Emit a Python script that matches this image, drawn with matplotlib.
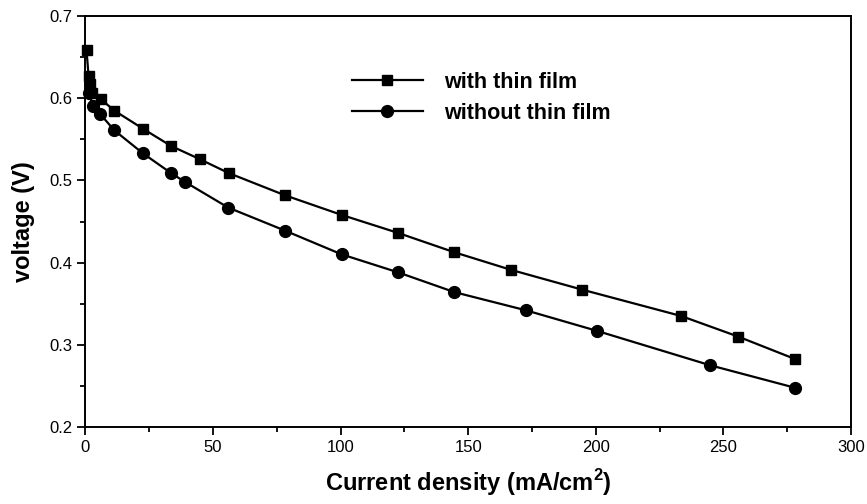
import matplotlib
matplotlib.use("Agg")
import matplotlib.pyplot as plt
from matplotlib.ticker import MultipleLocator, FormatStrFormatter

plt.rcParams['font.family'] = ['Liberation Sans', 'DejaVu Sans']
plt.rcParams['mathtext.fontset'] = 'custom'
plt.rcParams['mathtext.rm'] = 'Liberation Sans'
plt.rcParams['mathtext.bf'] = 'Liberation Sans:bold'

# with thin film (squares)
x_with = [0.4, 1.2, 1.6, 2.4, 6.0, 11.3, 22.5, 33.5, 44.7, 56.1, 78.1, 100.4, 122.6,
          144.6, 166.9, 194.7, 233.4, 255.7, 278.2]
v_with = [0.659, 0.627, 0.617, 0.606, 0.599, 0.585, 0.563, 0.542, 0.526, 0.509, 0.482,
          0.458, 0.436, 0.4125, 0.391, 0.367, 0.335, 0.310, 0.2824]

# without thin film (circles)
x_without = [1.2, 3.1, 5.7, 11.3, 22.5, 33.5, 39.1, 55.9, 78.1, 100.4, 122.6,
             144.6, 172.5, 200.3, 244.8, 278.2]
v_without = [0.606, 0.590, 0.581, 0.561, 0.533, 0.509, 0.498, 0.467, 0.439,
             0.410, 0.388, 0.364, 0.342, 0.317, 0.275, 0.2475]

label_with = "with thin film"
label_without = "without thin film"

fig = plt.figure(figsize=(8.67, 5.04), dpi=100)
ax = fig.add_axes([0.0986, 0.153, 0.883, 0.815])

ax.plot(x_with, v_with, '-', color='black', lw=1.6, marker='s', ms=7.5,
        label=label_with, clip_on=False)
ax.plot(x_without, v_without, '-', color='black', lw=1.6, marker='o', ms=8.5,
        label=label_without, clip_on=False)

ax.set_xlim(0, 300)
ax.set_ylim(0.2, 0.7)
ax.xaxis.set_major_locator(MultipleLocator(50))
ax.xaxis.set_minor_locator(MultipleLocator(25))
ax.yaxis.set_major_locator(MultipleLocator(0.1))
ax.yaxis.set_minor_locator(MultipleLocator(0.05))
ax.yaxis.set_major_formatter(FormatStrFormatter('%.1f'))

ax.tick_params(which='both', direction='out', top=False, right=False, width=1.3,
               labelsize=12)
ax.tick_params(which='major', length=6)
ax.tick_params(which='minor', length=3.5)
for s in ax.spines.values():
    s.set_linewidth(1.4)

ax.set_xlabel(r"Current density (mA/cm$^{\mathbf{2}}$)", fontsize=17,
              fontweight='bold', labelpad=9)
ax.set_ylabel("voltage (V)", fontsize=17, fontweight='bold', labelpad=10)

leg = ax.legend(loc='upper left', bbox_to_anchor=(0.348, 0.864), frameon=False,
                prop={'weight': 'bold', 'size': 15.5},
                handlelength=3.3, handletextpad=1.0, labelspacing=0.45,
                borderpad=0, borderaxespad=0)

fig.savefig("out.png", dpi=100)
